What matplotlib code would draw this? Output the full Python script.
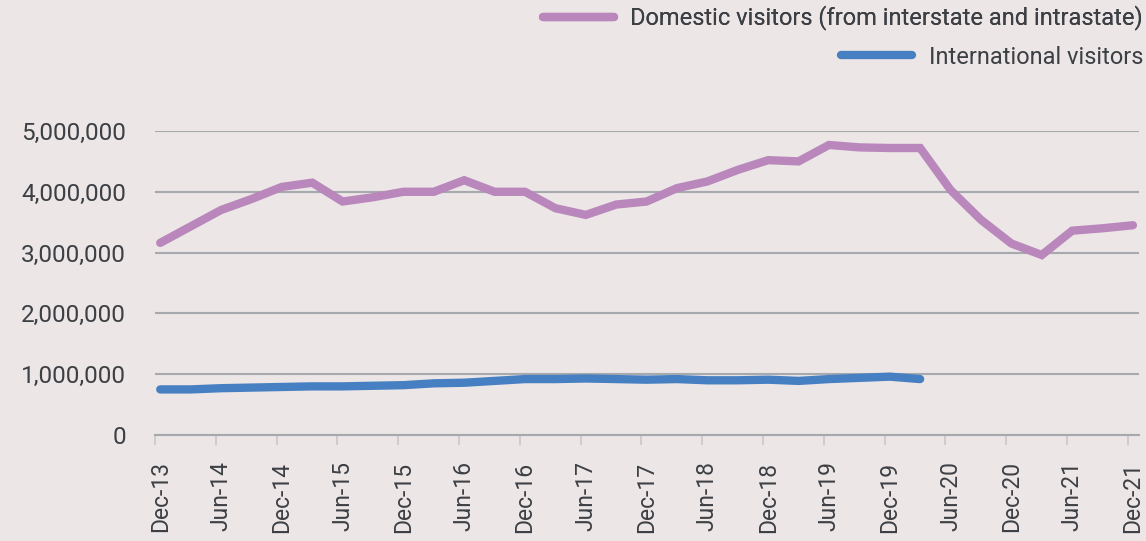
import numpy as np
import matplotlib
matplotlib.use("Agg")
import matplotlib.pyplot as plt
from matplotlib.ticker import FuncFormatter

# Quarterly series, Dec-13 .. Dec-21
quarters = ["Dec-13", "Mar-14", "Jun-14", "Sep-14", "Dec-14", "Mar-15", "Jun-15", "Sep-15",
            "Dec-15", "Mar-16", "Jun-16", "Sep-16", "Dec-16", "Mar-17", "Jun-17", "Sep-17",
            "Dec-17", "Mar-18", "Jun-18", "Sep-18", "Dec-18", "Mar-19", "Jun-19", "Sep-19",
            "Dec-19", "Mar-20", "Jun-20", "Sep-20", "Dec-20", "Mar-21", "Jun-21", "Sep-21",
            "Dec-21"]

# values in millions
domestic = [3.16, 3.43, 3.70, 3.88, 4.08, 4.15, 3.84, 3.91, 4.00, 4.00, 4.19, 4.00,
            4.00, 3.73, 3.62, 3.79, 3.84, 4.06, 4.17, 4.36, 4.52, 4.50, 4.77, 4.73,
            4.72, 4.72, 4.03, 3.54, 3.15, 2.96, 3.36, 3.40, 3.45]
international = [0.75, 0.75, 0.77, 0.78, 0.79, 0.80, 0.80, 0.81, 0.82, 0.85, 0.86, 0.89,
                 0.92, 0.92, 0.93, 0.92, 0.91, 0.92, 0.90, 0.90, 0.91, 0.89, 0.92, 0.94,
                 0.96, 0.92]

dom_label = "Domestic visitors (from interstate and intrastate)"
int_label = "International visitors"

bg = "#ECE6E6"
text_col = "#3C3F44"
purple = "#B987BC"
blue = "#4680C2"

plt.rcParams['font.family'] = ['Roboto', 'DejaVu Sans']

fig = plt.figure(figsize=(11.46, 5.41), dpi=100, facecolor=bg)
ax = fig.add_axes([0.1353, 0.1959, 0.8586, 0.562], facecolor=bg)

x_dom = np.arange(len(domestic))
x_int = np.arange(len(international))
dom_vals = np.array(domestic) * 1e6
int_vals = np.array(international) * 1e6

l1, = ax.plot(x_dom, dom_vals, color=purple, lw=6, solid_capstyle='round',
              solid_joinstyle='miter', label=dom_label, zorder=3)
l2, = ax.plot(x_int, int_vals, color=blue, lw=6, solid_capstyle='round',
              solid_joinstyle='miter', label=int_label, zorder=3)

ax.set_ylim(0, 5e6)
ax.set_xlim(-0.17, 32.2)
ax.set_yticks(np.arange(0, 5.01e6, 1e6))
ax.yaxis.set_major_formatter(FuncFormatter(lambda v, p: f"{int(v):,}"))
ax.grid(axis='y', color='#A6A9AD', lw=1.5, zorder=1)
ax.tick_params(axis='y', length=0, pad=21, labelsize=17.5, labelcolor=text_col)

# labels on every second quarter, tick marks slightly left of the points
lab_pos = x_dom[::2]
ax.set_xticks(lab_pos)
ax.set_xticklabels([quarters[i] for i in lab_pos], rotation=90)
ax.tick_params(axis='x', which='major', length=0, pad=19, labelsize=16.5, labelcolor=text_col)
ax.set_xticks(lab_pos - 0.17, minor=True)
ax.tick_params(axis='x', which='minor', length=7, width=1.2, color='#C8C8C8')

for s in ['top', 'right', 'left']:
    ax.spines[s].set_visible(False)
ax.spines['bottom'].set_color('#A6A9AD')
ax.spines['bottom'].set_linewidth(1.5)

leg1 = fig.legend(handles=[l1], loc='center right', bbox_to_anchor=(0.9974, 0.9667),
                  frameon=False, fontsize=17, handlelength=3.0, handletextpad=0.7,
                  borderpad=0, borderaxespad=0, labelcolor=text_col)
leg2 = fig.legend(handles=[l2], loc='center right', bbox_to_anchor=(0.9974, 0.8946),
                  frameon=False, fontsize=17, handlelength=3.0, handletextpad=0.7,
                  borderpad=0, borderaxespad=0, labelcolor=text_col)
fig.add_artist(leg1)

fig.savefig("out.png", dpi=100, facecolor=bg)
